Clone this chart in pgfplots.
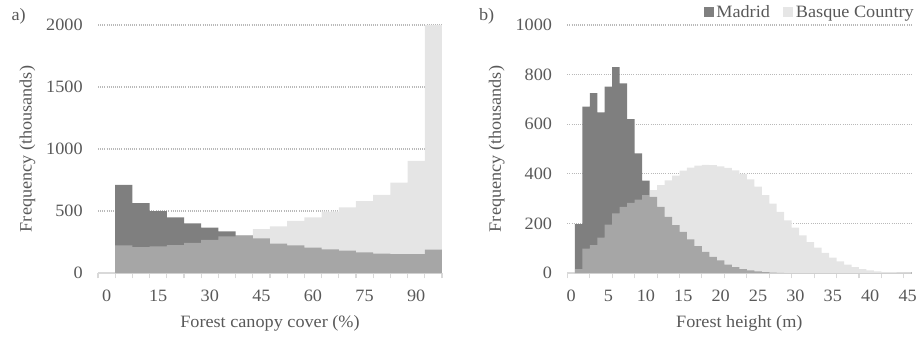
\documentclass[border=0pt]{standalone}
\usepackage{fontspec}
\setmainfont{Liberation Serif}[FakeStretch=1.05]
\usepackage{pgfplots}
\usepackage{pgfplotstable}
\pgfplotsset{compat=1.18}
\definecolor{madrid}{RGB}{127,127,127}
\definecolor{basque}{RGB}{205,205,205}
\definecolor{txt}{RGB}{89,89,89}
\definecolor{gridc}{RGB}{185,185,185}
\definecolor{axc}{RGB}{217,217,217}

\pgfplotstableread{
x m b
2.5 711 223
7.5 564 209
12.5 499 215
17.5 448 225
22.5 400 242
27.5 365 268
32.5 336 295
37.5 303 306
42.5 279 354
47.5 236 376
52.5 223 421
57.5 204 448
62.5 191 494
67.5 180 529
72.5 166 580
77.5 156 631
82.5 153 728
87.5 153 905
92.5 188 2000
97.5 188 2000
}\canopy

\pgfplotstableread{
x m b
0.5 197 16
1.5 671 98
2.5 725 112
3.5 648 143
4.5 752 195
5.5 830 240
6.5 765 267
7.5 620 283
8.5 482 296
9.5 372 314
10.5 307 334
11.5 267 354
12.5 226 374
13.5 193 393
14.5 166 413
15.5 136 425
16.5 108 433
17.5 85 436
18.5 65 435
19.5 51 430
20.5 34 424
21.5 24 414
22.5 16 400
23.5 11 378
24.5 7 348
25.5 4 314
26.5 2 280
27.5 1 246
28.5 0 212
29.5 0 183
30.5 0 152
31.5 0 125
32.5 0 102
33.5 0 81
34.5 0 62
35.5 0 47
36.5 0 34
37.5 0 24
38.5 0 16
39.5 0 11
40.5 0 7
41.5 0 4
42.5 0 3
43.5 0 1
44.5 0 0
45.5 0 0
}\height

\pgfplotsset{
  mystyle/.style={
    scale only axis, width=258pt, height=186pt,
    anchor=south west,
    axis lines*=left,
    x axis line style={-, draw=axc, line width=1pt},
    y axis line style={draw=none},
    ymajorgrids,
    grid style={draw=gridc, line width=0.8pt, dash pattern=on 0.7pt off 0.9pt},
    major tick length=0pt,
    minor tick length=4pt,
    tick align=outside,
    major tick style={draw=none},
    minor x tick style={draw=axc, line width=0.8pt},
    ticklabel style={font=\fontsize{13}{15}\selectfont, text=txt},
    /pgf/number format/assume math mode=true,
    /pgf/number format/1000 sep={},
    yticklabel style={anchor=east, xshift=-8pt},
    xticklabel style={anchor=north, yshift=-9pt},
    every axis y label/.style={at={(rel axis cs:0,0.5)}, rotate=90, anchor=center,
      yshift=52.9pt, font=\fontsize{13}{15}\selectfont, text=txt},
    every axis x label/.style={at={(rel axis cs:0.5,0)}, anchor=center,
      yshift=-37.5pt, font=\fontsize{13}{15}\selectfont, text=txt},
    ymin=0,
  },
  area/.style={draw=none, const plot mark left},
}

\begin{document}
\begin{tikzpicture}
\useasboundingbox (0,0) rectangle (690.75pt,255pt);
\node[font=\fontsize{13}{15}\selectfont, text=txt] at (14pt,243pt) {a)};
\node[font=\fontsize{13}{15}\selectfont, text=txt] at (365pt,243pt) {b)};

\begin{axis}[mystyle, at={(73.5pt,50.25pt)},
  xmin=-2.5, xmax=97.5, ymax=2000,
  ytick={0,500,...,2000},
  xtick={0,15,...,90},
  minor xtick={-2.5,2.5,...,97.5},
  xlabel={Forest canopy cover (\%)},
  ylabel={Frequency (thousands)}]
\addplot[area, fill=white, forget plot] table[x=x,y=b]{\canopy} \closedcycle;
\addplot[area, fill=madrid] table[x=x,y=m]{\canopy} \closedcycle;
\addplot[area, fill=basque, fill opacity=0.5] table[x=x,y=b]{\canopy} \closedcycle;
\end{axis}

\begin{axis}[mystyle, at={(425.5pt,50.25pt)},
  xmin=-0.5, xmax=45.5, ymax=1000,
  ytick={0,200,...,1000},
  xtick={0,5,...,45},
  minor xtick={-0.5,2.5,...,44.5},
  xlabel={Forest height (m)},
  ylabel={Frequency (thousands)},
  legend columns=2,
  legend style={at={(rel axis cs:1,1)}, anchor=south east, xshift=4pt, yshift=2pt,
    draw=none, fill=none, font=\fontsize{13}{15}\selectfont, text=txt,
    /tikz/every even column/.append style={column sep=8pt},
    inner sep=0pt},
  legend image code/.code={\fill[#1] (0pt,-3.8pt) rectangle (7.5pt,3.8pt);},
  ]
\addplot[area, fill=white, forget plot] table[x=x,y=b]{\height} \closedcycle;
\addplot[area, fill=madrid] table[x=x,y=m]{\height} \closedcycle;
\addlegendentry{Madrid}
\addplot[area, fill=basque, fill opacity=0.5] table[x=x,y=b]{\height} \closedcycle;
\addlegendentry{Basque Country}
\end{axis}
\end{tikzpicture}
\end{document}
